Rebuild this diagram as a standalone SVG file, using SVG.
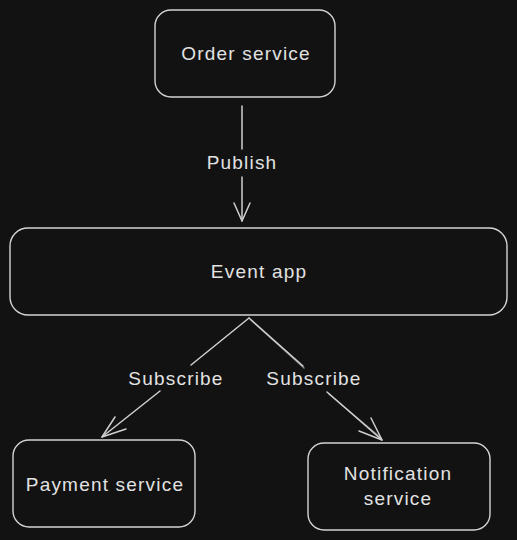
<svg xmlns="http://www.w3.org/2000/svg" width="517" height="540" viewBox="0 0 517 540">
  <defs>
    <style>
      .box { fill: #121212; stroke: #d4d4d4; stroke-width: 1.4; }
      .edge { fill: none; stroke: #cfcfcf; stroke-width: 1.5; stroke-linecap: round; stroke-linejoin: round; }
      .label { font-family: "Liberation Sans", "DejaVu Sans", sans-serif; font-size: 19px; letter-spacing: 1.2px; fill: #e2e2e2; text-anchor: middle; dominant-baseline: central; }
    </style>
  </defs>
  <rect width="517" height="540" fill="#121212"/>

  <!-- connectors -->
  <g id="connectors">
    <!-- Order service -> Event app -->
    <path class="edge" d="M242 106 L242 149 M242 177 L242 221"/>
    <path class="edge" d="M234 203 L242 221 L250 203"/>
    <text class="label" x="242" y="162">Publish</text>

    <!-- Event app -> Payment service -->
    <path class="edge" d="M249 318 L191 365 M160 391 L102 437"/>
    <path class="edge" d="M115 417 L102 437 L126 429"/>
    <text class="label" x="176" y="378">Subscribe</text>

    <!-- Event app -> Notification service -->
    <path class="edge" d="M249 318 L303 366 M327 392 L382 440"/>
    <path class="edge" d="M251 320 L304 368 M329 394 L381 438" stroke-opacity="0.6"/>
    <path class="edge" d="M371 418 L382 440 L359 431"/>
    <text class="label" x="314" y="378">Subscribe</text>
  </g>

  <!-- nodes -->
  <g id="order-service">
    <rect class="box" x="155" y="10" width="180" height="87" rx="16"/>
    <text class="label" x="246" y="53">Order service</text>
  </g>

  <g id="event-app">
    <rect class="box" x="10" y="228" width="497" height="87" rx="18"/>
    <text class="label" x="259" y="271">Event app</text>
  </g>

  <g id="payment-service">
    <rect class="box" x="13" y="440" width="182" height="87" rx="16"/>
    <text class="label" x="105" y="484">Payment service</text>
  </g>

  <g id="notification-service">
    <rect class="box" x="308" y="443" width="182" height="87" rx="16"/>
    <text class="label" x="398" y="473">Notification</text>
    <text class="label" x="398" y="498">service</text>
  </g>
</svg>
